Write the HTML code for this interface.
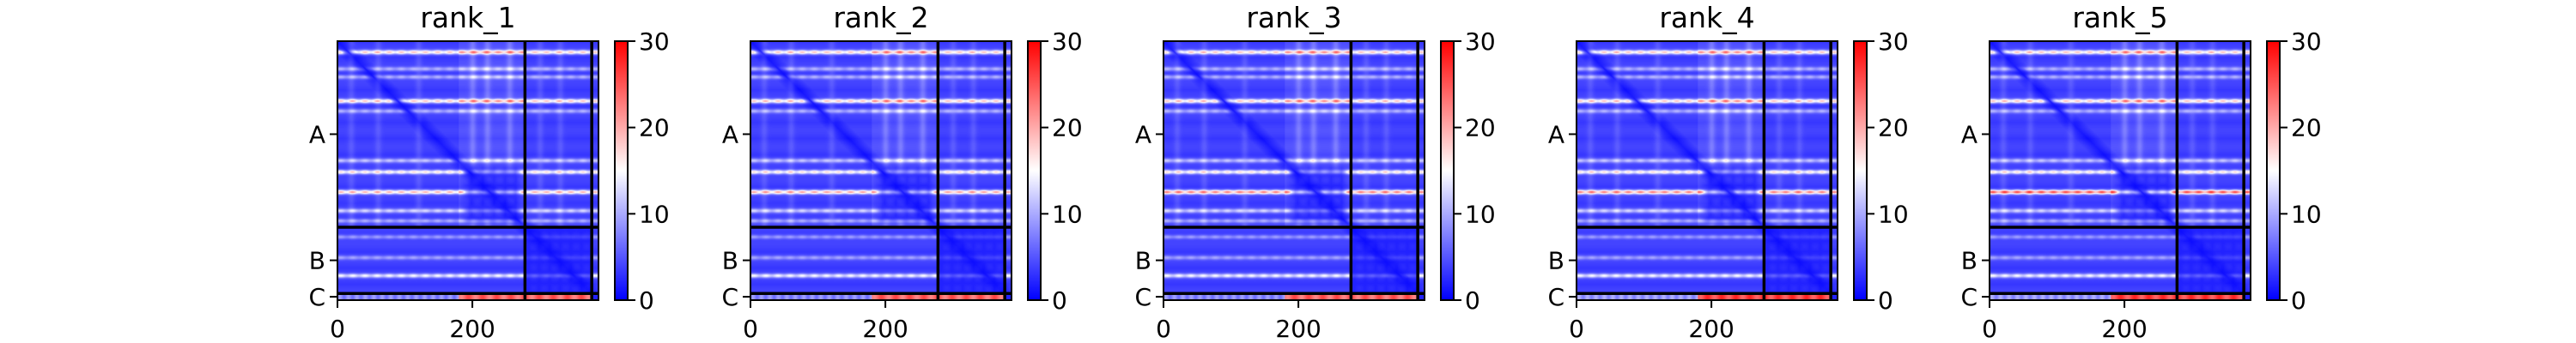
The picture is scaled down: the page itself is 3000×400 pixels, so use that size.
<!DOCTYPE html>
<html><head><meta charset="utf-8">
<style>
html,body{margin:0;padding:0;background:#fff;}
#root{position:relative;width:3000px;height:400px;overflow:hidden;background:#fff;}
canvas{position:absolute;image-rendering:auto;}
svg{position:absolute;left:0;top:0;}
text{font-family:"DejaVu Sans","Liberation Sans",sans-serif;fill:#000;}
</style></head>
<body>
<div id="root">
<svg id="svg" width="3000" height="400">
<defs><linearGradient id="bwr" x1="0" y1="1" x2="0" y2="0">
<stop offset="0" stop-color="#0000ff"/><stop offset="0.5" stop-color="#ffffff"/><stop offset="1" stop-color="#ff0000"/>
</linearGradient></defs>
</svg>
</div>
<script>
const ranks = ['rank_1','rank_2','rank_3','rank_4','rank_5'];
const nRes = 387;
const chainEnds = [278, 377, 387];
const chainLabels = ['A','B','C'];
const xTicks = [0, 200];
const cbTicks = [0, 10, 20, 30];
const rowStripePos = [16, 41, 53, 89, 104, 178, 195, 225, 253, 268, 292, 323, 350];
const rowStripeAmpR1 = [15, 7, 7, 15, 7, 8, 14, 16, 9, 7, 6, 6, 11];
const rowStripeAmpR2 = [15, 7, 7, 15, 7, 8, 14, 17, 9, 7, 6, 6, 11];
const rowStripeAmpR3 = [15, 7, 7, 15, 7, 8, 14, 19, 9, 7, 6, 6, 11];
const rowStripeAmpR4 = [15, 7, 7, 15, 7, 8, 14, 19, 9, 7, 6, 6, 11];
const rowStripeAmpR5 = [15, 7, 7, 15, 7, 8, 14, 22, 9, 7, 6, 6, 11];
const rowAmps = [rowStripeAmpR1,rowStripeAmpR2,rowStripeAmpR3,rowStripeAmpR4,rowStripeAmpR5];
const colStripePos = [20, 60, 120, 200, 222, 255, 300, 330];
const colStripeAmp = [1.5, 1.5, 1.5, 2.5, 2.5, 2.5, 1.5, 1.5];
const chainCLow = [8, 8, 8, 9, 9];
const chainCHigh = [24, 24, 24, 26, 26];

const root = document.getElementById('root');
const svg = document.getElementById('svg');
const NS = 'http://www.w3.org/2000/svg';
const AX_W = 304, AX_H = 302, AX_T = 48, PANEL_DX = 481, AX_L0 = 393;
const vmax = 30;

function bwr(v){
  let t = Math.max(0, Math.min(1, v / vmax));
  if (t < 0.5) { const c = Math.round(2*t*255); return [c,c,255]; }
  const c = Math.round((2-2*t)*255); return [255,c,c];
}
function chainOf(i){ return i < chainEnds[0] ? 0 : (i < chainEnds[1] ? 1 : 2); }
function el(tag, attrs, parent){
  const e = document.createElementNS(NS, tag);
  for (const k in attrs) e.setAttribute(k, attrs[k]);
  (parent || svg).appendChild(e); return e;
}
function soft(x, a, b, w){ return Math.min(1, Math.max(0, (x-a)/w)) * Math.min(1, Math.max(0, (b-x)/w)); }

ranks.forEach((rk, p) => {
  const axL = AX_L0 + p*PANEL_DX;
  const xs = v => axL + v/nRes*AX_W;
  const ys = v => AX_T + v/nRes*AX_H;
  const amps = rowAmps[p];

  const cv = document.createElement('canvas');
  cv.width = nRes; cv.height = nRes;
  cv.style.left = axL + 'px'; cv.style.top = AX_T + 'px';
  cv.style.width = AX_W + 'px'; cv.style.height = AX_H + 'px';
  
  
  root.insertBefore(cv, svg);
  const ctx = cv.getContext('2d');
  const img = ctx.createImageData(nRes, nRes);
  for (let i = 0; i < nRes; i++) {
    const ci = chainOf(i);
    for (let j = 0; j < nRes; j++) {
      const cj = chainOf(j);
      let v;
      if (ci === 2) {
        v = j < 180 ? chainCLow[p] + 1.5*Math.sin(j*0.5) : (j >= chainEnds[1] ? 2 : chainCHigh[p] + 2*Math.sin(j*0.3));
      } else {
        const d = Math.abs(i-j);
        v = 0.8 + Math.min(d, 20)/20*2.4 + 0.8*Math.abs(Math.sin(i*0.13));
        if (ci === 1 && cj === 1) v = 0.8 + Math.min(d,20)/20*1.2 + 0.6*Math.abs(Math.sin(i*0.2)*Math.sin(j*0.2));
        const dom = soft(i, 180, 278, 15) * soft(j, 180, 278, 15);
        v = v*(1 - 0.35*dom) + dom*0.9*Math.abs(Math.sin(i*0.19)*Math.sin(j*0.19));
        let fac = 1 - 0.6*dom;
        if (ci === 0 && j >= 180 && j < 278) fac *= 1.15;
        if (ci === 1 && cj === 1) fac = 0.3;
        if (d < 12) fac *= d/12;
        for (let k = 0; k < rowStripePos.length; k++) {
          const dd = (i - rowStripePos[k]) / 3.2;
          if (Math.abs(dd) < 4) v += fac * amps[k] * Math.exp(-dd*dd) * (0.85 + 0.15*Math.sin(j*0.35));
        }
        if (ci === 0) {
          for (let k = 0; k < colStripePos.length; k++) {
            const dd = (j - colStripePos[k]) / 5;
            if (Math.abs(dd) < 4) v += (1-dom) * colStripeAmp[k] * Math.exp(-dd*dd);
          }
          if (j >= 180 && j < 278) v += 1.0*(1-dom);
        }
      }
      const c = bwr(v); const o = (i*nRes + j)*4;
      img.data[o]=c[0]; img.data[o+1]=c[1]; img.data[o+2]=c[2]; img.data[o+3]=255;
    }
  }
  ctx.putImageData(img, 0, 0);

  const g = el('g', {});
  
  

  chainEnds.slice(0, 2).forEach(b => {
    const lv = el('line', {x1: xs(b), x2: xs(b), y1: AX_T, y2: AX_T+AX_H, stroke:'#000','stroke-width':3.5}, g);
    
    
    const lh = el('line', {x1: axL, x2: axL+AX_W, y1: ys(b), y2: ys(b), stroke:'#000','stroke-width':3.5}, g);
    
    
  });
  const frame = el('rect', {x: axL, y: AX_T, width: AX_W, height: AX_H, fill:'none', stroke:'#000','stroke-width':2}, g);
  
  

  const title = el('text', {x: axL + AX_W/2, y: 32, 'font-size': 33, 'text-anchor':'middle'}, g);
  title.textContent = rk;
  
  

  xTicks.forEach(t => {
    const tl = el('line', {x1: xs(t), x2: xs(t), y1: AX_T+AX_H, y2: AX_T+AX_H+9, stroke:'#000','stroke-width':2}, g);
    
    
    const tx = el('text', {x: xs(t), y: 393, 'font-size': 28, 'text-anchor':'middle'}, g);
    tx.textContent = t;
    
    
  });
  let start = 0;
  chainLabels.forEach((lab, k) => {
    const mid = (start + chainEnds[k]) / 2; start = chainEnds[k];
    const tl = el('line', {x1: axL-9, x2: axL, y1: ys(mid), y2: ys(mid), stroke:'#000','stroke-width':2}, g);
    
    
    const tx = el('text', {x: axL-14, y: ys(mid)+10, 'font-size': 28, 'text-anchor':'end'}, g);
    tx.textContent = lab;
    
    
  });

  const cbL = axL + 323, cbW = 15;
  const cb = el('rect', {x: cbL, y: AX_T, width: cbW, height: AX_H, fill:'url(#bwr)', stroke:'#000','stroke-width':2}, g);
  
  
  cbTicks.forEach(t => {
    const y = AX_T + AX_H - t/vmax*AX_H;
    const tl = el('line', {x1: cbL+cbW, x2: cbL+cbW+9, y1: y, y2: y, stroke:'#000','stroke-width':2}, g);
    
    
    const tx = el('text', {x: cbL+cbW+13, y: y+10, 'font-size': 28}, g);
    tx.textContent = t;
    
    
  });
});
</script>
</body></html>
